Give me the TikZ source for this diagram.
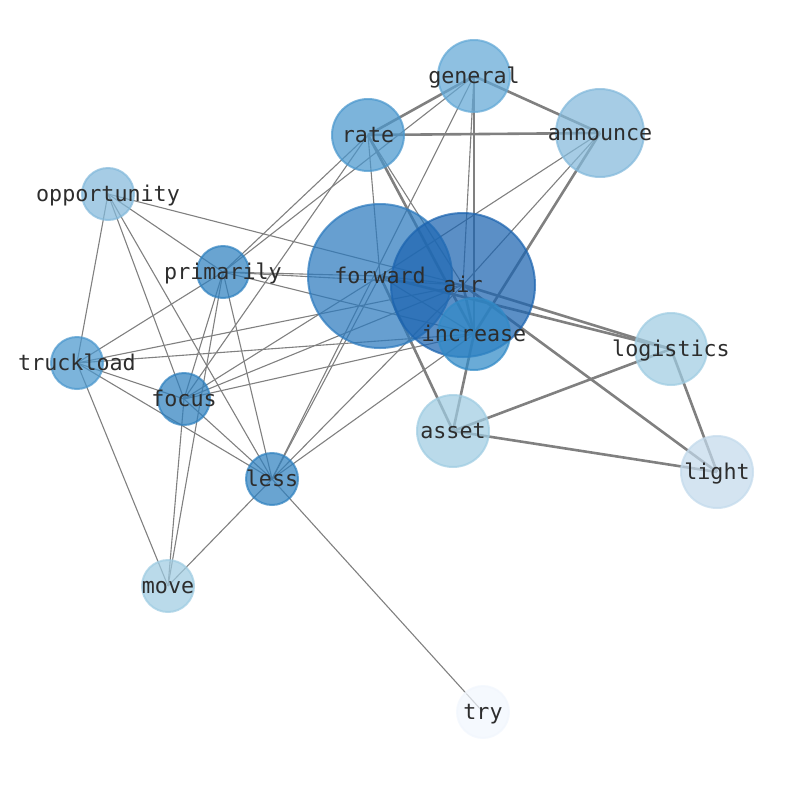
\documentclass[tikz,border=0pt]{standalone}
\usepackage{fontspec}
\newfontfamily\labfont{DejaVu Sans Mono}
\pgfdeclarelayer{edges}
\pgfsetlayers{edges,main}
\definecolor{edgegray}{RGB}{128,128,128}
\definecolor{cAir}{RGB}{28,100,176}
\definecolor{cFwd}{RGB}{44,122,190}
\definecolor{cInc}{RGB}{49,138,199}
\definecolor{cMid}{RGB}{47,129,191}
\definecolor{cRate}{RGB}{74,151,205}
\definecolor{cGen}{RGB}{98,168,214}
\definecolor{cAnn}{RGB}{131,185,219}
\definecolor{cLog}{RGB}{159,204,226}
\definecolor{cLight}{RGB}{195,218,236}
\definecolor{cTry}{RGB}{241,246,253}
\definecolor{labcol}{RGB}{45,45,45}
\tikzset{
  bub/.style={circle, inner sep=0pt, line width=2pt, fill opacity=0.72, draw opacity=0.72},
  lab/.style={font=\labfont\fontsize{21.7}{26}\selectfont, text=labcol, inner sep=0pt, text height=15.8pt, text depth=0pt},
  thinE/.style={draw=edgegray, line width=1.1pt},
  thickE/.style={draw=edgegray, line width=2.6pt}
}
\begin{document}
\begin{tikzpicture}[x=1pt,y=-1pt]
\useasboundingbox (0,0) rectangle (794,790);
% bubbles
\node[bub, minimum size=72pt, fill=cGen, draw=cGen] (general) at (474,76) {};
\node[bub, minimum size=88pt, fill=cAnn, draw=cAnn] (announce) at (600,133) {};
\node[bub, minimum size=72pt, fill=cRate, draw=cRate] (rate) at (368,135) {};
\node[bub, minimum size=52pt, fill=cAnn, draw=cAnn] (opportunity) at (108,194) {};
\node[bub, minimum size=52pt, fill=cMid, draw=cMid] (primarily) at (223,272) {};
\node[bub, minimum size=144pt, fill=cFwd, draw=cFwd] (forward) at (380,276) {};
\node[bub, minimum size=144pt, fill=cAir, draw=cAir] (air) at (463,285) {};
\node[bub, minimum size=72pt, fill=cInc, draw=cInc] (increase) at (474,334) {};
\node[bub, minimum size=72pt, fill=cLog, draw=cLog] (logistics) at (671,349) {};
\node[bub, minimum size=52pt, fill=cRate, draw=cRate] (truckload) at (77,363) {};
\node[bub, minimum size=52pt, fill=cMid, draw=cMid] (focus) at (184,399) {};
\node[bub, minimum size=72pt, fill=cLog, draw=cLog] (asset) at (453,431) {};
\node[bub, minimum size=72pt, fill=cLight, draw=cLight] (light) at (717,472) {};
\node[bub, minimum size=52pt, fill=cMid, draw=cMid] (less) at (272,479) {};
\node[bub, minimum size=52pt, fill=cLog, draw=cLog] (move) at (168,586) {};
\node[bub, minimum size=52pt, fill=cTry, draw=cTry] (try) at (483,712) {};
% labels
\foreach \n in {general,announce,rate,opportunity,primarily,forward,air,increase,logistics,truckload,focus,asset,light,less,move,try}
  \node[lab] (\n-lab) at (\n.center) {\n};
% edges
\begin{pgfonlayer}{edges}
\foreach \a/\b in {general/rate, general/announce, rate/announce, general/increase,
  rate/increase, announce/increase, air/logistics, forward/logistics, air/light,
  increase/asset, forward/asset, asset/logistics, asset/light, logistics/light, air/increase}
  \draw[thickE] (\a.center) -- (\b.center);
\foreach \a/\b in {general/air, rate/air, rate/forward, announce/forward, announce/air,
  opportunity/truckload, opportunity/primarily, opportunity/focus, opportunity/less, opportunity/air,
  primarily/truckload, primarily/rate, primarily/general, primarily/forward, primarily/air,
  primarily/increase, primarily/focus, primarily/less, primarily/move,
  truckload/air, truckload/increase, truckload/focus, truckload/less, truckload/move,
  focus/rate, focus/forward, focus/air, focus/increase, focus/less, focus/move,
  less/general, less/forward, less/air, less/increase, less/move, less/try,
  forward/air, forward/increase}
  \draw[thinE] (\a.center) -- (\b.center);
\end{pgfonlayer}
\end{tikzpicture}
\end{document}
